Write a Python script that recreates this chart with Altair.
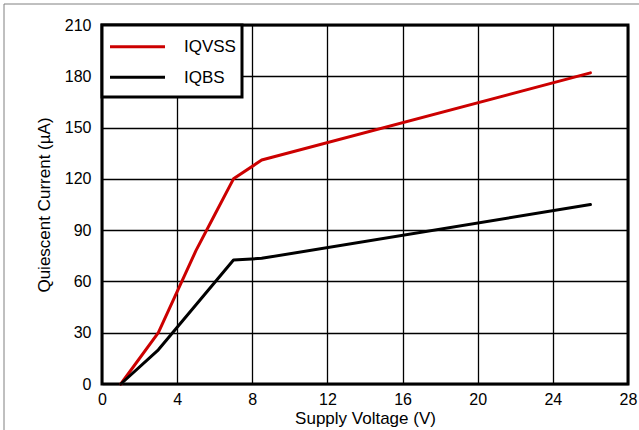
import altair as alt
import pandas as pd

# Quiescent current versus supply voltage
voltage_vss = [1, 3, 4, 5, 6, 7, 8.5, 26]
iq_vss = [0, 30, 54, 78, 99, 120, 131, 182]
voltage_bs = [1, 3, 7, 8.5, 26]
iq_bs = [0, 20, 72.5, 73.5, 105]

series_names = ["IQVSS", "IQBS"]
series_colors = ["#cc0000", "#000000"]

x_ticks = list(range(0, 29, 4))
y_ticks = list(range(0, 211, 30))

FONT = "Liberation Sans"
W, H = 526, 359

df = pd.concat([
    pd.DataFrame({"voltage": voltage_vss, "current": iq_vss, "series": series_names[0]}),
    pd.DataFrame({"voltage": voltage_bs, "current": iq_bs, "series": series_names[1]}),
])

lines = alt.Chart(df).mark_line(strokeWidth=3, strokeCap="round", strokeJoin="round").encode(
    x=alt.X("voltage:Q",
            scale=alt.Scale(domain=[0, 28], nice=False, zero=False),
            axis=alt.Axis(values=x_ticks, title="Supply Voltage (V)", labelPadding=7,
                          labelFlush=False, titleY=39, titleBaseline="alphabetic")),
    y=alt.Y("current:Q",
            scale=alt.Scale(domain=[0, 210], nice=False),
            axis=alt.Axis(values=y_ticks, title="Quiescent Current (µA)", labelPadding=11,
                          labelFlush=False, titleX=-58, titleBaseline="middle")),
    color=alt.Color("series:N",
                    scale=alt.Scale(domain=series_names, range=series_colors),
                    legend=None),
    order=alt.Order("voltage:Q"),
)

one = alt.Chart(pd.DataFrame({"k": [0]}))

# Boxed legend in the top-left corner of the plot
legend_box = one.mark_rect(fill="white", stroke="black", strokeWidth=3).encode(
    x=alt.value(0), x2=alt.value(140), y=alt.value(0), y2=alt.value(72)
)
legend_layers = [legend_box]
for i, (name, col) in enumerate(zip(series_names, series_colors)):
    yy = 21.7 + i * 30.6
    legend_layers.append(
        one.mark_rule(color=col, strokeWidth=3).encode(
            x=alt.value(8), x2=alt.value(63), y=alt.value(yy)
        )
    )
    legend_layers.append(
        one.mark_text(align="left", baseline="middle", fontSize=17, font=FONT, color="black").encode(
            x=alt.value(82), y=alt.value(yy + 0.5), text=alt.value(name)
        )
    )

# Thin grey border along the top and left of the figure
frame_top = one.mark_rule(color="#808080", strokeWidth=1).encode(
    x=alt.value(-98), x2=alt.value(537), y=alt.value(-21)
)
frame_left = one.mark_rule(color="#808080", strokeWidth=1).encode(
    x=alt.value(-98), y=alt.value(-21), y2=alt.value(405)
)

chart = alt.layer(lines, *legend_layers, frame_top, frame_left).properties(
    width=W, height=H,
    autosize=alt.AutoSizeParams(type="none"),
    padding={"left": 102, "top": 25, "right": 11, "bottom": 46},
    background="white",
).configure_view(
    stroke="black", strokeWidth=3
).configure_axis(
    grid=True, gridColor="black", gridWidth=1.3, gridOpacity=1,
    domain=False, ticks=False,
    labelFont=FONT, labelFontSize=16, labelColor="black",
    titleFont=FONT, titleFontSize=17, titleFontWeight="normal", titleColor="black",
)

chart.save("out.html", embed_options={"renderer": "svg", "actions": False})
